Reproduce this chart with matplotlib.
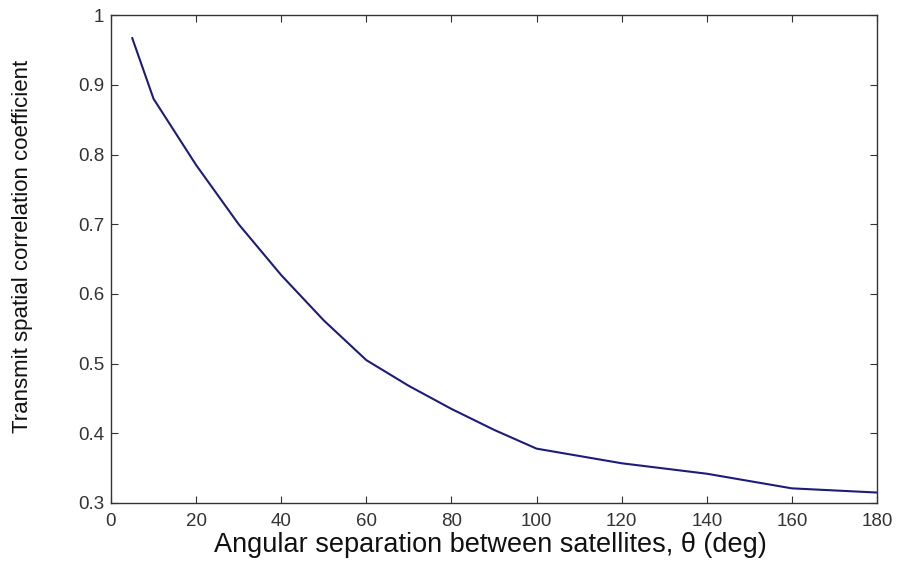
import matplotlib
matplotlib.use("Agg")
import matplotlib.pyplot as plt

# values
theta = [5, 10, 20, 30, 40, 50, 60, 70, 80, 90, 100, 120, 140, 160, 180]
corr = [0.967, 0.880, 0.785, 0.700, 0.627, 0.562, 0.505, 0.468, 0.435, 0.405,
        0.378, 0.357, 0.342, 0.321, 0.315]

xticks = list(range(0, 181, 20))
yticks = [0.3, 0.4, 0.5, 0.6, 0.7, 0.8, 0.9, 1.0]
yticklabels = ["0.3", "0.4", "0.5", "0.6", "0.7", "0.8", "0.9", "1"]

plt.rcParams["font.family"] = ["Liberation Sans", "DejaVu Sans"]

fig = plt.figure(figsize=(8.98, 5.62), dpi=100)
ax = fig.add_axes([0.1236, 0.105, 0.853, 0.868])

ax.plot(theta, corr, color="#1c1c7a", lw=1.5)

ax.set_xlim(0, 180)
ax.set_ylim(0.3, 1.0)
ax.set_xticks(xticks)
ax.set_yticks(yticks)
ax.set_yticklabels(yticklabels)
ax.tick_params(direction="in", top=True, right=True, length=5, width=0.8,
               labelsize=13.5, colors="#333333")
ax.tick_params(axis="x", pad=7)
ax.tick_params(axis="y", pad=5)
for s in ax.spines.values():
    s.set_linewidth(1.0)
    s.set_color("#333333")

ax.set_xlabel("Angular separation between satellites, \u03b8 (deg)", fontsize=19.5,
              ha="center", va="center", color="#111111")
ax.set_ylabel("Transmit spatial correlation coefficient", fontsize=16,
              ha="center", va="center", color="#111111")
ax.xaxis.set_label_coords(0.495, -0.086)
ax.yaxis.set_label_coords(-0.115, 0.526)

fig.savefig("out.png", dpi=100)
